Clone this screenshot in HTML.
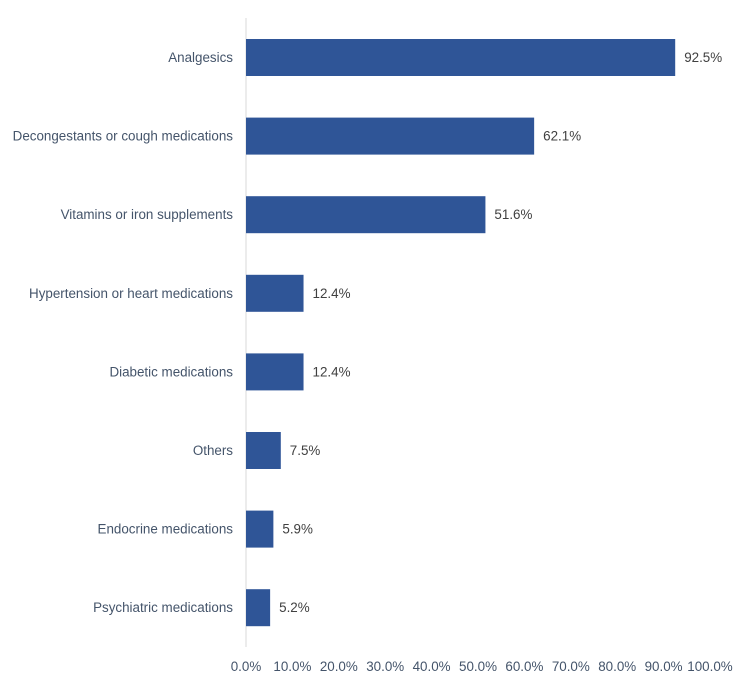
<!DOCTYPE html>
<html><head><meta charset="utf-8"><style>
body{margin:0;background:#fff;}
svg{display:block;font-family:"Liberation Sans",sans-serif;}
</style></head><body>
<svg id="chart" width="750" height="686" viewBox="0 0 750 686">
<line x1="246" y1="18" x2="246" y2="647" stroke="#d9d9d9" stroke-width="1"/>
<g id="bars"></g>
</svg>
<script>
const categories=["Analgesics","Decongestants or cough medications","Vitamins or iron supplements","Hypertension or heart medications","Diabetic medications","Others","Endocrine medications","Psychiatric medications"];
const values=[92.5,62.1,51.6,12.4,12.4,7.5,5.9,5.2];
const ticks=[0,10,20,30,40,50,60,70,80,90,100];
const NS="http://www.w3.org/2000/svg";
const x0=246,xw=464,y0=57.5,step=78.6,bh=37;
const xs=v=>x0+v/100*xw;
const ys=i=>y0+i*step;
const g=document.getElementById('bars');
function mk(t,a){const e=document.createElementNS(NS,t);for(const k in a)e.setAttribute(k,a[k]);g.appendChild(e);return e;}
categories.forEach((c,i)=>{
 const r=mk('rect',{x:x0,y:ys(i)-bh/2,width:xs(values[i])-x0,height:bh,fill:'#2f5597'});
 
 
 const l=mk('text',{x:233,y:ys(i)+4.5,'text-anchor':'end','font-size':'13.4',fill:'#44546a'});
 l.textContent=c;
 
 
 const v=mk('text',{x:xs(values[i])+9,y:ys(i)+4.5,'font-size':'13.4',fill:'#404040'});
 v.textContent=values[i].toFixed(1)+'%';
 
 
});
ticks.forEach(t=>{
 const e=mk('text',{x:xs(t),y:671,'text-anchor':'middle','font-size':'13.4',fill:'#44546a'});
 e.textContent=t.toFixed(1)+'%';
 
 
});
</script>
</body></html>
